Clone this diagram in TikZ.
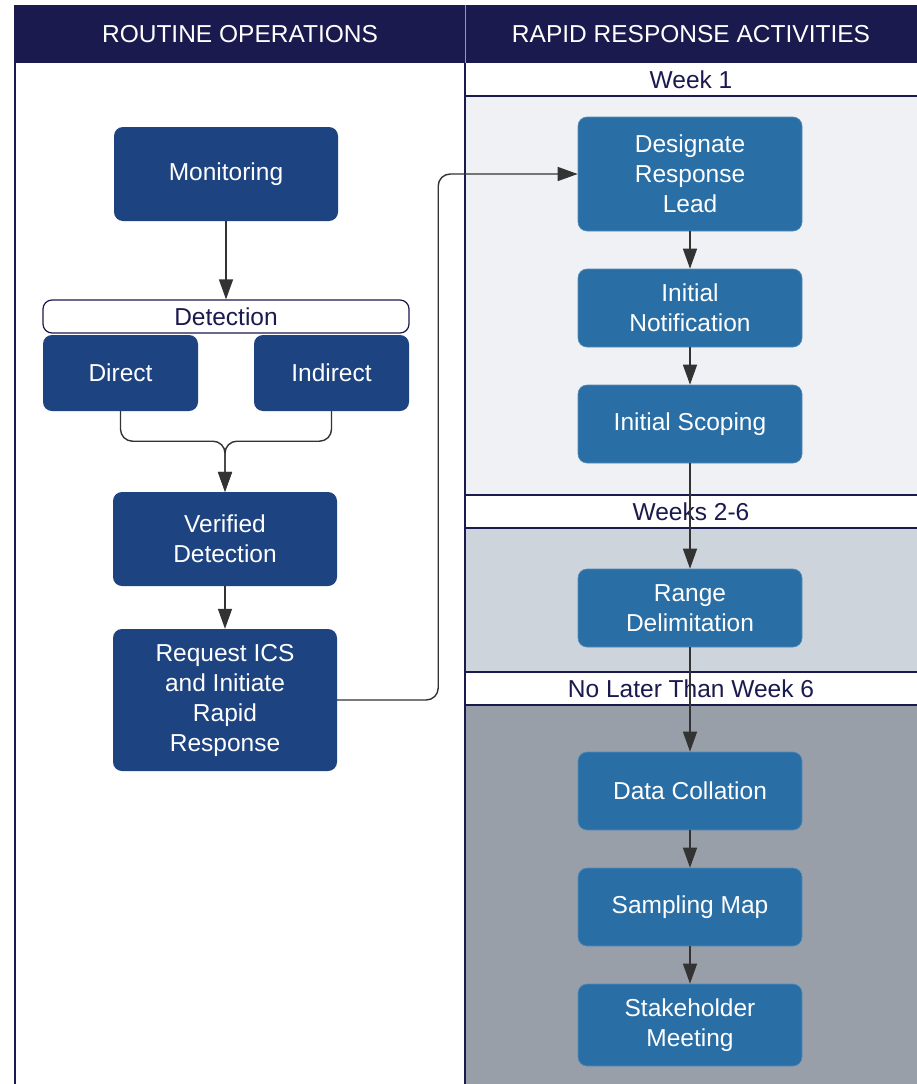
\documentclass[tikz,border=0pt]{standalone}
\usepackage{fontspec}
\setmainfont{Liberation Sans}
\usetikzlibrary{arrows.meta}

\begin{document}
\begin{tikzpicture}[x=1pt,y=-1pt,
    box/.style={rounded corners=9pt, text=white, align=center, inner sep=0pt,
        minimum width=224pt, font=\fontsize{24.5}{30}\selectfont},
    routine/.style={box, fill=routine_blue},
    rapid/.style={box, fill=rapid_blue, draw=rapid_blue!80!white, line width=0.6pt},
    flow/.style={draw=arrow_grey, line width=1.4pt, -{Triangle[length=20pt,width=14pt]}},
    lanetitle/.style={text=white, font=\fontsize{24.5}{30}\selectfont},
    bandtitle/.style={text=head_navy, font=\fontsize{24.5}{30}\selectfont}]
    \definecolor{head_navy}{HTML}{1B1A4F}
    \definecolor{routine_blue}{HTML}{1D4380}
    \definecolor{rapid_blue}{HTML}{2A6EA6}
    \definecolor{band_one}{HTML}{F0F1F4}
    \definecolor{band_two}{HTML}{CDD4DC}
    \definecolor{band_three}{HTML}{989FA9}
    \definecolor{arrow_grey}{HTML}{333333}
    \useasboundingbox[fill=white] (0,0) rectangle (917,1084);
    %\draw[help lines] (0,0) grid (917,1084);

    % lanes and bands
    \path[fill=head_navy] (14,5) rectangle (917,63);
    \draw[white!55!head_navy, line width=1pt] (465,5) -- (465,63);
    \path[fill=band_one] (465,96) rectangle (917,495);
    \path[fill=band_two] (465,528) rectangle (917,672);
    \path[fill=band_three] (465,705) rectangle (917,1084);
    \draw[head_navy, line width=1.5pt] (15,63) -- (15,1084);
    \draw[head_navy, line width=1.5pt] (465,63) -- (465,1084);
    \foreach \y in {96,495,528,672,705}
        \draw[head_navy, line width=1.5pt] (465,\y) -- (917,\y);

    \node[lanetitle] (routine) at (240,34) {ROUTINE OPERATIONS};
    \node[lanetitle] (rapid) at (691,34) {RAPID RESPONSE ACTIVITIES};
    \node[bandtitle] (weekone) at (691,80) {Week 1};
    \node[bandtitle] (weekstwosix) at (691,512) {Weeks 2-6};
    \node[bandtitle] (weeksix) at (691,689) {No Later Than Week 6};

    % routine operations
    \node[routine, minimum height=94pt] (monitoring) at (226,174) {Monitoring};
    \node[bandtitle, draw=head_navy, line width=1.2pt, fill=white, rounded corners=9pt,
        minimum width=366pt, minimum height=33pt, inner sep=0pt] (detection) at (226,316.5) {Detection};
    \node[routine, minimum width=155pt, minimum height=76pt] (direct) at (120.5,373) {Direct};
    \node[routine, minimum width=155pt, minimum height=76pt] (indirect) at (331.5,373) {Indirect};
    \node[routine, minimum height=94pt] (verified) at (225,539) {Verified\\Detection};
    \node[routine, minimum height=142pt] (request) at (225,700) {Request ICS\\and Initiate\\Rapid\\Response};

    % rapid response activities
    \node[rapid, minimum height=114pt] (designate) at (690,174) {Designate\\Response\\Lead};
    \node[rapid, minimum height=78pt] (notification) at (690,308) {Initial\\Notification};
    \node[rapid, minimum height=78pt] (scoping) at (690,424) {Initial Scoping};
    \node[rapid, minimum height=78pt] (range) at (690,608) {Range\\Delimitation};
    \node[rapid, minimum height=78pt] (collation) at (690,791) {Data Collation};
    \node[rapid, minimum height=78pt] (sampling) at (690,907) {Sampling Map};
    \node[rapid, minimum height=82pt] (stakeholder) at (690,1025) {Stakeholder\\Meeting};

    % connectors
    \draw[flow] (monitoring) -- (detection);
    \draw[flow, rounded corners=12pt] (direct.south) -- ++(0,30) -| (verified.north);
    \draw[flow, rounded corners=12pt] (indirect.south) -- ++(0,30) -| (verified.north);
    \draw[flow] (verified) -- (request);
    \draw[flow, rounded corners=12pt] (request.east) -- ++(101,0) |- (designate.west);
    \draw[flow] (designate) -- (notification);
    \draw[flow] (notification) -- (scoping);
    \draw[flow] (scoping) -- (range);
    \draw[flow] (range) -- (collation);
    \draw[flow] (collation) -- (sampling);
    \draw[flow] (sampling) -- (stakeholder);
\end{tikzpicture}
\end{document}
